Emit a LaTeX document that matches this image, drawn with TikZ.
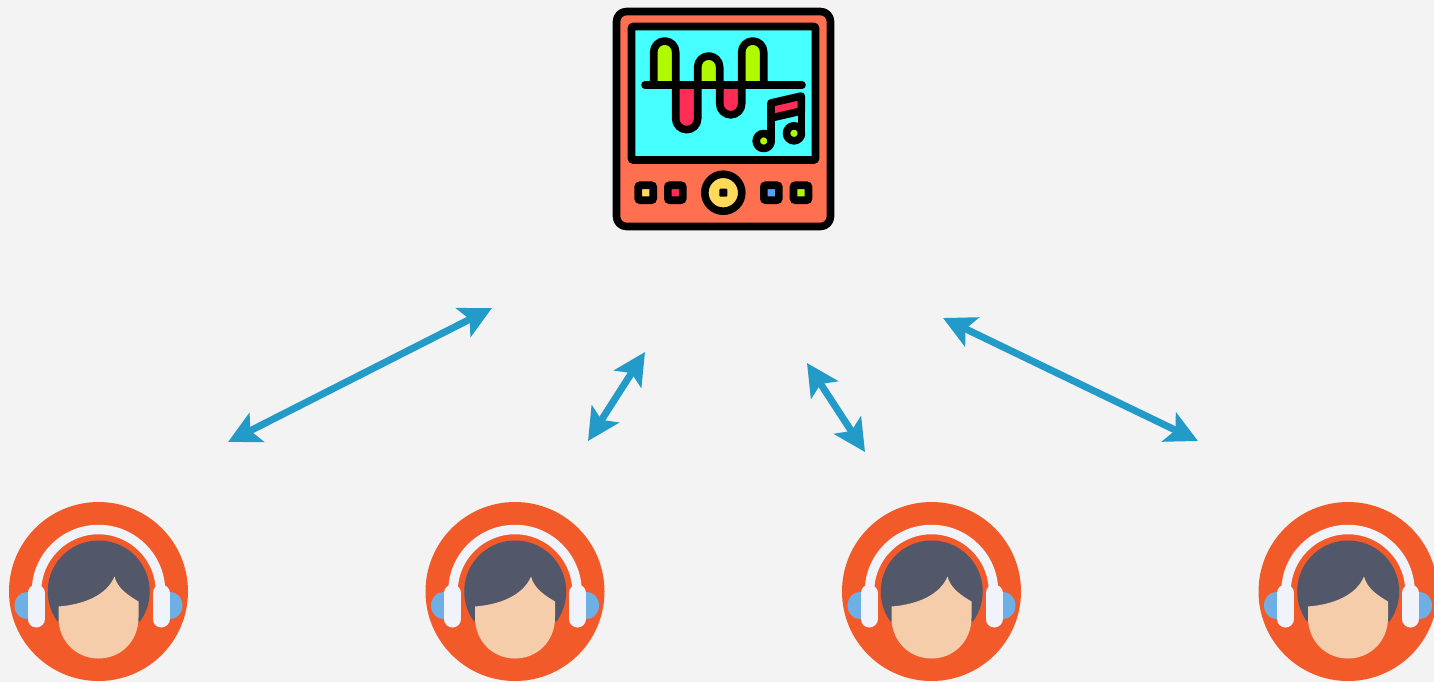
\documentclass[tikz,border=0pt]{standalone}
\usepackage{tikz}
\usetikzlibrary{arrows.meta}
\usepackage{xcolor}
\definecolor{paper}{RGB}{243,243,243}
\definecolor{coral}{RGB}{255,112,80}
\definecolor{scrn}{RGB}{70,255,255}
\definecolor{lime}{RGB}{175,250,0}
\definecolor{rosa}{RGB}{255,45,85}
\definecolor{gold}{RGB}{255,218,90}
\definecolor{sky}{RGB}{90,160,240}
\definecolor{flame}{RGB}{242,90,41}
\definecolor{hair}{RGB}{82,87,105}
\definecolor{skin}{RGB}{245,205,170}
\definecolor{band}{RGB}{240,243,250}
\definecolor{cup}{RGB}{110,175,230}
\definecolor{arrowc}{RGB}{35,155,200}
\tikzset{
  ink/.style={draw=black,line width=3.8pt,line join=round},
  btn/.style={draw=black,line width=3.8pt,rounded corners=1pt,minimum size=7.5pt,inner sep=0pt},
  dbl/.style={{Stealth[length=16pt,width=16pt,inset=3.5pt]}-{Stealth[length=16pt,width=16pt,inset=3.5pt]},
    line width=3.5pt,arrowc},
  listener/.pic={
    \fill[flame] (0,0) circle[radius=89.5];
    \fill[cup] (-72,14) ellipse[x radius=12,y radius=13.5];
    \fill[cup] (72,14) ellipse[x radius=12,y radius=13.5];
    \draw[band,line width=4.75pt] (-62,0) arc[start angle=180,end angle=360,radius=62];
    \draw[band,line width=8.5pt,line cap=round] (-62.5,1.5) -- (-62.5,27.5);
    \draw[band,line width=8.5pt,line cap=round] (62.5,1.5) -- (62.5,27.5);
    \fill[hair] (-41,30) arc[start angle=143.9,end angle=396.1,radius=51] -- cycle;
    \fill[skin] (-40,15) .. controls (-15,13) and (8,4) .. (16,-15)
      .. controls (19,-3) and (30,4) .. (40,10) -- (40,26)
      .. controls (40,50) and (22,67) .. (0,67)
      .. controls (-22,67) and (-40,50) .. (-40,26) -- cycle;
  },
}
\begin{document}
\begin{tikzpicture}[x=0.5pt,y=-0.5pt]
\clip (0,0) rectangle (1434,682);
\fill[paper] (0,0) rectangle (1434,682);
% player body and screen
\draw[ink,fill=coral,rounded corners=5pt] (616.5,11.5) rectangle (830.5,226.5);
\draw[ink,fill=scrn,rounded corners=0.5pt] (631.5,26.5) rectangle (815.5,160);
% wave, one lobe at a time
\foreach \xa/\yc/\colr/\ang in {653.7/52/lime/360,675.7/118.7/rosa/0,697.7/67/lime/360,
    719.7/103.8/rosa/0,741.7/52/lime/360}{
  \ifnum\ang=0
    \draw[ink,fill=\colr] (\xa,85) -- (\xa,\yc) arc[start angle=180,end angle=0,radius=11] -- (\xa+22,85);
  \else
    \draw[ink,fill=\colr] (\xa,85) -- (\xa,\yc) arc[start angle=180,end angle=360,radius=11] -- (\xa+22,85);
  \fi
}
\coordinate (wl) at (645,85);
\coordinate (wr) at (802,85);
\draw[ink,line cap=round] (wl) -- (wr);
% note
\draw[ink,fill=rosa] (771,103) -- (801.3,96) -- (801.3,111) -- (771,118) -- cycle;
\node[ink,circle,fill=lime,minimum size=7.5pt,inner sep=0pt] (nl) at (763.7,141) {};
\node[ink,circle,fill=lime,minimum size=7.5pt,inner sep=0pt] (nr) at (794,133.3) {};
\draw[ink] (771,118) -- (771,141);
\draw[ink] (801.3,111) -- (801.3,133);
% buttons
\node[btn,fill=gold] (b1) at (645.7,192.7) {};
\node[btn,fill=rosa] (b2) at (675.3,192.7) {};
\node[btn,fill=sky] (b3) at (771.3,192.7) {};
\node[btn,fill=lime] (b4) at (801,192.7) {};
\node[ink,circle,fill=gold,minimum size=18.5pt,inner sep=0pt] (disc) at (723.3,192.7) {};
\node[fill=black,rounded corners=0.5pt,minimum size=4pt,inner sep=0pt] (hole) at (723.3,192.7) {};
% listeners
\foreach \xa/\name in {98.5/l1,515/l2,931.5/l3,1348/l4}
  \pic (\name) at (\xa,591.5) {listener};
% arrows
\coordinate (a1) at (228,442);
\coordinate (a2) at (492,308);
\coordinate (b1e) at (588,441);
\coordinate (b2e) at (645,352);
\coordinate (c1) at (807,363);
\coordinate (c2) at (865,452);
\coordinate (d1) at (943,318);
\coordinate (d2) at (1198,441);
\draw[dbl] (a1) -- (a2);
\draw[dbl] (b1e) -- (b2e);
\draw[dbl] (c1) -- (c2);
\draw[dbl] (d1) -- (d2);
\end{tikzpicture}
\end{document}
